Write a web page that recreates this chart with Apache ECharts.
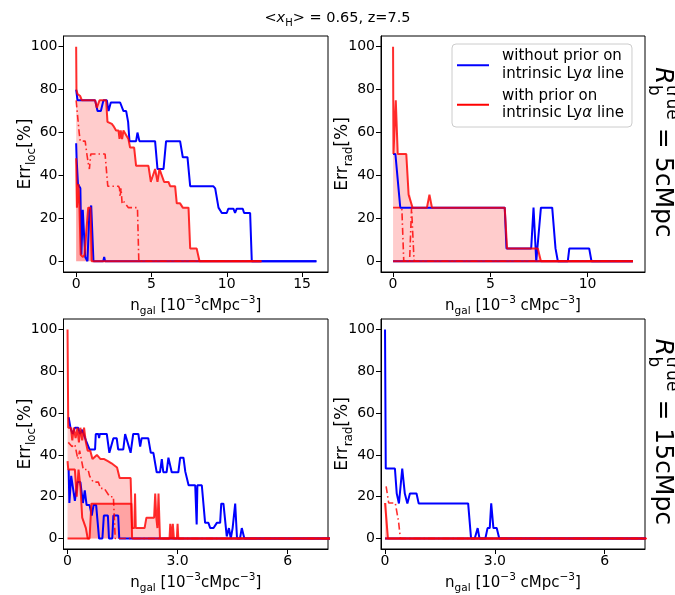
<!DOCTYPE html>
<html>
<head>
<meta charset="utf-8">
<script src="https://cdn.jsdelivr.net/npm/echarts@6/dist/echarts.min.js"></script>
<style>
  html, body { margin: 0; padding: 0; background: #ffffff; }
  #chart { width: 675px; height: 595px; }
</style>
</head>
<body>
<div id="chart"></div>
<script>
// ---------- data: [n_gal (1e-3 cMpc^-3), error (%)] ----------
// R_b = 5 cMpc, localisation error
const locNoPriorHi5 = [[0,80],[0.09,75],[1.26,75],[1.42,70],[1.64,70],[1.81,75],[2.04,75],[2.15,70],[2.3,74],[2.92,74],[3.14,70],[3.32,70],[3.45,65],[3.54,56],[3.98,56],[4.07,60],[4.2,56],[5.24,56],[5.4,43],[5.8,43],[5.97,56],[6.9,56],[7.08,48.5],[7.39,48.5],[7.57,35],[8.9,35],[9.0,35.5],[9.1,35],[9.23,34],[9.45,25],[9.67,22.5],[10.0,22.5],[10.1,24.5],[10.44,24.5],[10.55,22.5],[10.66,24.5],[11.06,24.5],[11.15,22.5],[11.55,22.5],[11.66,0],[15.95,0]];
const locNoPriorLo5 = [[0,55],[0.03,48],[0.12,36],[0.28,34],[0.35,3],[0.44,24],[0.5,24],[0.6,2],[0.75,0],[0.88,23],[1.0,26],[1.1,26],[1.15,0],[1.8,0],[1.86,2],[1.92,0],[15.95,0]];
const locPriorHi5 = [[0,100],[0.02,80],[0.09,78],[0.27,77],[0.38,75],[1.26,75],[1.37,71.5],[1.55,75],[1.99,75],[2.08,65],[2.37,64],[2.48,63],[2.65,61],[2.81,61],[2.88,57],[2.96,61],[3.05,57],[3.14,61],[3.47,57],[3.58,53],[3.85,53],[3.98,44.5],[4.8,44.5],[4.96,37],[5.09,37],[5.24,43],[5.4,37],[5.53,43],[5.62,43],[5.84,37],[6.13,37],[6.24,35],[6.57,35],[6.68,27],[6.9,27],[7.08,25],[7.46,25],[7.57,6],[8.0,6],[8.19,0],[12.3,0]];
const locPriorLo5 = [[0,48],[0.05,25],[0.15,36],[0.22,25],[0.3,3],[0.45,2],[0.55,3],[0.8,25],[0.95,25],[1.03,0],[12.3,0]];
const locPriorMed5 = [[0,75],[0.1,75],[0.2,60],[0.27,56],[0.6,56],[0.71,50],[0.82,45],[0.88,43],[0.97,50],[1.92,50],[2.1,35],[2.81,35],[2.88,34],[2.92,30],[2.98,34],[3.05,27],[3.14,28],[3.47,25],[4.07,25],[4.16,0],[12.3,0]];

// R_b = 5 cMpc, radius error
const radNoPriorHi5 = [[0,50],[0.12,50],[0.37,25],[5.74,25],[5.83,6],[7.1,6],[7.22,25],[7.36,0],[7.6,25],[8.18,25],[8.35,6],[8.47,0],[8.98,0],[9.06,6],[10.08,6],[10.2,0],[12.33,0]];
const radNoPriorLo5 = [[0,0],[12.33,0]];
const radPriorHi5 = [[0,100],[0.02,50],[0.14,75],[0.24,50],[0.68,50],[0.8,31],[0.89,31],[1.0,25],[1.74,25],[1.87,31],[2.0,25],[5.74,25],[5.86,6],[7.44,6],[7.6,0],[12.33,0]];
const radPriorLo5 = [[0,0],[12.33,0]];
const radPriorMed5 = [[0,25],[0.45,25],[0.55,0],[0.85,0],[0.95,25],[1.0,25],[1.08,0],[12.33,0]];

// R_b = 15 cMpc, localisation error
const locNoPriorHi15 = [[0.03,58],[0.08,53],[0.14,50],[0.2,53],[0.29,53],[0.34,50],[0.4,52],[0.5,47],[0.6,42.6],[0.75,42.6],[0.77,50],[0.84,50],[0.86,48],[0.88,50],[1.07,50],[1.14,41],[1.17,41],[1.25,48],[1.34,48],[1.38,42.6],[1.52,42.6],[1.57,50],[1.61,50],[1.72,41],[1.79,50],[1.93,50],[1.98,44],[2.02,48],[2.2,48],[2.27,41],[2.34,41],[2.43,31.7],[2.52,31.7],[2.57,38],[2.61,31.7],[2.7,31.7],[2.75,38.7],[2.8,38.7],[2.84,31.7],[3.02,31.7],[3.07,38.7],[3.16,38.7],[3.21,32],[3.3,25.5],[3.48,25.5],[3.52,6.7],[3.54,25.5],[3.66,25.5],[3.75,7.5],[3.84,7.5],[3.89,5],[3.98,5],[4.07,7.5],[4.16,7.5],[4.19,16.7],[4.25,16.7],[4.34,1],[4.4,5],[4.45,0],[4.5,5],[4.57,16.7],[4.62,0],[4.7,0],[4.75,5],[4.82,0],[8,0]];
const locNoPriorLo15 = [[0.03,33],[0.05,17],[0.1,30],[0.15,24],[0.2,18],[0.27,27],[0.35,27],[0.42,17],[0.47,23],[0.52,16],[0.6,16],[0.66,11],[0.71,16],[0.78,16],[0.82,8],[0.86,0],[0.95,0],[0.99,11],[1.1,11],[1.13,0],[1.22,0],[1.25,11],[1.38,11],[1.41,0],[8,0]];
const locPriorHi15 = [[0,100],[0.02,53],[0.09,53],[0.13,47],[0.17,53],[0.22,48],[0.27,53],[0.31,46],[0.35,53],[0.4,47],[0.45,53],[0.5,46],[0.55,42],[0.62,42],[0.68,38],[0.8,40],[0.9,38],[1.0,38],[1.1,37],[1.2,36],[1.35,34],[1.42,29],[1.72,29],[1.76,5],[1.82,5],[1.84,21.5],[1.86,5],[2.1,5],[2.15,10],[2.36,10],[2.39,21.5],[2.42,10],[2.45,5],[2.48,21.5],[2.52,0],[2.78,0],[2.8,7],[2.84,0],[2.87,7],[2.9,0],[2.98,0],[3.0,7],[3.02,0],[8,0]];
const locPriorLo15 = [[0,0],[0.6,0],[0.65,16.7],[1.74,16.7],[1.76,0],[8,0]];
const locPriorAlt15 = [[0,37],[0.02,33],[0.2,33],[0.25,20],[0.3,33],[0.35,25],[0.4,10],[0.5,5],[0.55,0],[0.6,0]];
const locPriorMed15 = [[0.02,46],[0.12,44],[0.2,45],[0.28,38],[0.33,42],[0.43,33],[0.56,33],[0.6,30],[0.7,27],[0.84,27],[0.9,24],[1.0,24],[1.15,20],[1.25,20],[1.3,0],[8,0]];

// R_b = 15 cMpc, radius error
const radNoPriorHi15 = [[0,100],[0.02,33.5],[0.27,33.5],[0.32,21.5],[0.38,16.8],[0.47,33.5],[0.54,21.5],[0.61,16.8],[0.68,21.5],[0.86,21.5],[0.92,16.8],[2.27,16.8],[2.35,0],[2.45,0],[2.53,5],[2.58,0],[2.74,0],[2.8,5],[2.86,5],[2.9,16.8],[2.96,5],[3.05,5],[3.12,0],[8,0]];
const radNoPriorLo15 = [[0,0],[8,0]];
const radPriorHi15 = [[0,17],[0.05,17],[0.08,0],[8,0]];
const radPriorLo15 = [[0,0],[8,0]];
const radPriorMed15 = [[0.03,25],[0.1,17],[0.28,17],[0.37,8],[0.42,0],[8,0]];

// tick values
const errTicks = [0, 20, 40, 60, 80, 100];
const nTicksLoc5 = [0, 5, 10, 15];
const nTicksRad5 = [0, 5, 10];
const nTicks15 = [0, 3, 6];

// ---------- styling ----------
const FONT = 'DejaVu Sans';
const BLUE = '#0000ff';
const RED = 'rgba(255,0,0,0.82)';
const FILL = 'rgba(255,0,0,0.2)';
const NAME_NO = 'without prior on intrinsic Lyα line';
const NAME_WITH = 'with prior on intrinsic Lyα line';

const grids = [
  { left: 63.5, top: 36, width: 264.5, height: 236 },
  { left: 381, top: 36, width: 264, height: 236 },
  { left: 63.5, top: 319, width: 264.5, height: 236 },
  { left: 381, top: 319, width: 264, height: 236 }
].map(g => Object.assign({ show: true, borderColor: '#000', borderWidth: 1, backgroundColor: 'transparent' }, g));

function richSet(fs) {
  const sm = fs * 0.7;
  return {
    n: { fontSize: fs, fontFamily: FONT, color: '#000', lineHeight: fs + 5 },
    s: { fontSize: sm, fontFamily: FONT, color: '#000', lineHeight: sm, verticalAlign: 'bottom', padding: [0, 0, -1, 0] },
    p: { fontSize: sm, fontFamily: FONT, color: '#000', lineHeight: sm, verticalAlign: 'top', padding: [-1, 0, 0, 0] }
  };
}

function xAxis(gi, min, max, ticks, name, fmt) {
  return {
    type: 'value', gridIndex: gi, min: min, max: max,
    axisLine: { show: true, onZero: false, lineStyle: { color: '#000', width: 1 } },
    axisTick: { show: true, length: 5, lineStyle: { color: '#000', width: 1 }, customValues: ticks },
    axisLabel: { customValues: ticks, formatter: fmt, color: '#000', fontSize: 14, fontFamily: FONT, margin: 5 },
    splitLine: { show: false },
    name: name, nameLocation: 'middle', nameGap: 24, nameMoveOverlap: false,
    nameTextStyle: { rich: richSet(15), verticalAlign: 'top' }
  };
}

function yAxis(gi, name) {
  return {
    type: 'value', gridIndex: gi, min: -5, max: 105,
    axisLine: { show: true, onZero: false, lineStyle: { color: '#000', width: 1 } },
    axisTick: { show: true, length: 5, lineStyle: { color: '#000', width: 1 }, customValues: errTicks },
    axisLabel: { customValues: errTicks, color: '#000', fontSize: 14, fontFamily: FONT, margin: 6 },
    splitLine: { show: false },
    name: name, nameLocation: 'middle', nameGap: 27, nameRotate: 90, nameMoveOverlap: false,
    nameTextStyle: { rich: richSet(17) }
  };
}

const xNameA = '{n|n}{s|gal}{n| [10}{p|−3}{n|cMpc}{p|−3}{n|]}';
const xNameB = '{n|n}{s|gal}{n| [10}{p|−3}{n| cMpc}{p|−3}{n|]}';
const yLoc = '{n|Err}{s|loc}{n|[%]}';
const yRad = '{n|Err}{s|rad}{n|[%]}';
const fmt15 = v => (v === 3 ? '3.0' : String(v));

function line(name, data, gi, color, dashed) {
  return {
    type: 'line', name: name, data: data, xAxisIndex: gi, yAxisIndex: gi,
    showSymbol: false, symbol: 'none', silent: true, clip: true,
    lineStyle: { color: color, width: dashed ? 1.6 : 2, type: dashed ? [7, 3, 1.5, 3] : 'solid' },
    itemStyle: { color: color },
    z: dashed ? 4 : (color === BLUE ? 2 : 3)
  };
}

// filled region from zero up to a curve
function fillUnder(curve, gi) {
  return {
    type: 'custom', xAxisIndex: gi, yAxisIndex: gi, data: [[0, 0]], silent: true, clip: true, z: 1,
    renderItem: function (params, api) {
      const pts = curve.map(p => api.coord(p));
      pts.push(api.coord([curve[curve.length - 1][0], 0]));
      pts.push(api.coord([curve[0][0], 0]));
      return { type: 'polygon', shape: { points: pts }, style: { fill: FILL } };
    }
  };
}

function panel(gi, noHi, noLo, wHi, wLo, wMed) {
  return [
    fillUnder(wHi, gi),
    fillUnder(wLo, gi),
    line(NAME_NO, noHi, gi, BLUE),
    line('no-prior-low-' + gi, noLo, gi, BLUE),
    line(NAME_WITH, wHi, gi, RED),
    line('prior-low-' + gi, wLo, gi, RED),
    line('prior-median-' + gi, wMed, gi, RED, true)
  ];
}

// rotated row label, reads top to bottom
function rowLabel(cx, cy, rest) {
  const fs = 25, sm = 17;
  const wR = 18, wTrue = 35, wRest = rest.length * 14.9;
  const W = wR + wTrue + wRest;
  const x0 = -W / 2;
  return {
    type: 'group', x: cx, y: cy, rotation: -Math.PI / 2,
    children: [
      { type: 'text', x: x0, y: 0, style: { text: 'R', fontSize: fs, fontStyle: 'italic', fontFamily: FONT, fill: '#000', verticalAlign: 'middle' } },
      { type: 'text', x: x0 + wR, y: -9, style: { text: 'true', fontSize: sm, fontFamily: FONT, fill: '#000', verticalAlign: 'middle' } },
      { type: 'text', x: x0 + wR, y: 9, style: { text: 'b', fontSize: sm, fontFamily: FONT, fill: '#000', verticalAlign: 'middle' } },
      { type: 'text', x: x0 + wR + wTrue, y: 0, style: { text: rest, fontSize: fs, fontFamily: FONT, fill: '#000', verticalAlign: 'middle' } }
    ]
  };
}

const option = {
  animation: false,
  backgroundColor: '#ffffff',
  title: {
    text: '{a|<}{i|x}{s|H}{a|> = 0.65, z=7.5}',
    left: 'center', top: 3,
    textStyle: {
      fontWeight: 'normal',
      rich: {
        a: { fontSize: 14.5, fontFamily: FONT, fontWeight: 'normal', color: '#000', lineHeight: 20 },
        i: { fontSize: 14.5, fontFamily: FONT, fontWeight: 'normal', fontStyle: 'italic', color: '#000', lineHeight: 20 },
        s: { fontSize: 10, fontFamily: FONT, fontWeight: 'normal', color: '#000', lineHeight: 10, verticalAlign: 'bottom' }
      }
    }
  },
  legend: {
    orient: 'vertical', left: 452, top: 44,
    itemWidth: 32, itemHeight: 2, itemGap: 7,
    padding: [5, 8, 6, 5],
    borderColor: '#cccccc', borderWidth: 1, borderRadius: 4,
    backgroundColor: 'rgba(255,255,255,0.8)',
    data: [
      { name: NAME_NO, icon: 'rect', itemStyle: { color: BLUE } },
      { name: NAME_WITH, icon: 'rect', itemStyle: { color: '#ff0000' } }
    ],
    formatter: function (name) {
      const first = name === NAME_NO ? 'without prior on' : 'with prior on';
      return '{t|' + first + '}\n{t|intrinsic Ly}{g|α}{t| line}';
    },
    textStyle: {
      padding: [0, 0, 0, 8],
      rich: {
        t: { fontSize: 15, fontFamily: FONT, color: '#000', lineHeight: 17.5 },
        g: { fontSize: 15, fontFamily: FONT, fontStyle: 'italic', color: '#000', lineHeight: 17.5 }
      }
    }
  },
  grid: grids,
  xAxis: [
    xAxis(0, -0.84, 16.72, nTicksLoc5, xNameA),
    xAxis(1, -0.62, 12.95, nTicksRad5, xNameB),
    xAxis(2, -0.11, 7.1, nTicks15, xNameA, fmt15),
    xAxis(3, -0.11, 7.1, nTicks15, xNameB, fmt15)
  ],
  yAxis: [yAxis(0, yLoc), yAxis(1, yRad), yAxis(2, yLoc), yAxis(3, yRad)],
  series: [].concat(
    panel(0, locNoPriorHi5, locNoPriorLo5, locPriorHi5, locPriorLo5, locPriorMed5),
    panel(1, radNoPriorHi5, radNoPriorLo5, radPriorHi5, radPriorLo5, radPriorMed5),
    panel(2, locNoPriorHi15, locNoPriorLo15, locPriorHi15, locPriorLo15, locPriorMed15),
    [line('prior-low-early-2', locPriorAlt15, 2, RED)],
    panel(3, radNoPriorHi15, radNoPriorLo15, radPriorHi15, radPriorLo15, radPriorMed15)
  ),
  graphic: [
    rowLabel(662, 153, ' = 5cMpc'),
    rowLabel(662, 432, ' = 15cMpc')
  ]
};

const chart = echarts.init(document.getElementById('chart'), null, { renderer: 'canvas' });
chart.setOption(option);
</script>
</body>
</html>
